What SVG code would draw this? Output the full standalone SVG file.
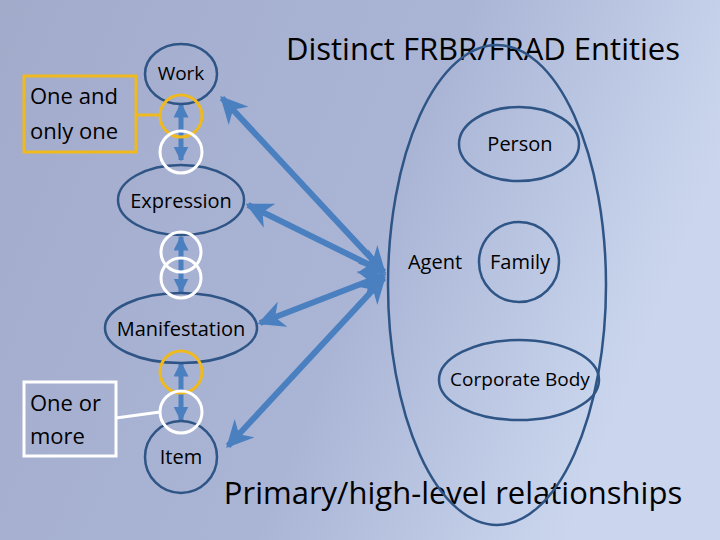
<svg xmlns="http://www.w3.org/2000/svg" width="720" height="540" viewBox="0 0 720 540">
<defs>
<linearGradient id="bg" x1="0" y1="0" x2="1" y2="0.3">
<stop offset="0" stop-color="#a3abcb"/><stop offset="0.6" stop-color="#aab5d6"/><stop offset="1" stop-color="#cbd6ee"/>
</linearGradient>
<marker id="ah" viewBox="0 0 10 10" refX="9" refY="5" markerWidth="4.5" markerHeight="4.5" orient="auto-start-reverse" markerUnits="strokeWidth">
<path d="M0,0 L10,5 L0,10 L3,5 Z" fill="#4a7fc0"/></marker>
<marker id="sh" viewBox="0 0 10 10" refX="9" refY="5" markerWidth="3" markerHeight="3" orient="auto-start-reverse" markerUnits="strokeWidth">
<path d="M0,0 L10,5 L0,10 Z" fill="#4a7fc0"/></marker>
</defs>
<style>
.e{fill:none;stroke:#2e5585;stroke-width:2.5}
.t{font-family:"Open Sans","Liberation Sans",sans-serif;fill:#000}
.a{stroke:#4a7fc0;stroke-width:6;fill:none;marker-start:url(#ah);marker-end:url(#ah)}
.v{stroke:#4a7fc0;stroke-width:5;fill:none;marker-start:url(#sh);marker-end:url(#sh)}
.y{fill:none;stroke:#f0b91e;stroke-width:3}
.w{fill:none;stroke:#fff;stroke-width:3}
</style>
<rect width="720" height="540" fill="url(#bg)"/>
<text class="t" x="483" y="60" font-size="31" text-anchor="middle">Distinct FRBR/FRAD Entities</text>
<text class="t" x="453" y="504" font-size="31" text-anchor="middle">Primary/high-level relationships</text>
<g id="connectors">
<line class="a" x1="384" y1="272" x2="222" y2="98"/>
<line class="a" x1="384" y1="272" x2="248" y2="205"/>
<line class="a" x1="384" y1="275" x2="260" y2="323"/>
<line class="a" x1="384" y1="278" x2="228" y2="446"/>
<line class="v" x1="181" y1="104" x2="181" y2="160"/>
<line class="v" x1="181" y1="237" x2="181" y2="292"/>
<line class="v" x1="181" y1="363" x2="181" y2="420"/>
<polyline points="136,115 160,115" fill="none" stroke="#f0b91e" stroke-width="3"/>
<polyline points="116,418 160,412" fill="none" stroke="#fff" stroke-width="3"/>
</g>
<g id="work"><ellipse class="e" cx="181" cy="74" rx="36" ry="30"/><text class="t" x="181" y="80" font-size="19" text-anchor="middle">Work</text></g>
<g id="expression"><ellipse class="e" cx="181" cy="200" rx="63" ry="35"/><text class="t" x="181" y="208" font-size="20" text-anchor="middle">Expression</text></g>
<g id="manifestation"><ellipse class="e" cx="181" cy="328" rx="76" ry="35"/><text class="t" x="181" y="336" font-size="20" text-anchor="middle">Manifestation</text></g>
<g id="item"><circle class="e" cx="181" cy="457" r="36"/><text class="t" x="181" y="464" font-size="20" text-anchor="middle">Item</text></g>
<g id="markers">
<circle class="y" cx="181" cy="116" r="21"/><circle class="w" cx="181" cy="152" r="21"/>
<circle class="w" cx="181" cy="252" r="20"/><circle class="w" cx="181" cy="278" r="20"/>
<circle class="y" cx="181" cy="372" r="21"/><circle class="w" cx="181" cy="412" r="21"/>
</g>
<g id="one-and-only-one"><rect x="24" y="76" width="112" height="76" fill="none" stroke="#f0b91e" stroke-width="3"/>
<text class="t" font-size="22"><tspan x="30" y="104">One and</tspan><tspan x="30" y="139">only one</tspan></text></g>
<g id="one-or-more"><rect x="24" y="382" width="92" height="74" fill="none" stroke="#fff" stroke-width="3"/>
<text class="t" font-size="22"><tspan x="30" y="411">One or</tspan><tspan x="30" y="444">more</tspan></text></g>
<g id="agent"><ellipse class="e" cx="497" cy="285" rx="109" ry="240"/><text class="t" x="435" y="269" font-size="20" text-anchor="middle">Agent</text></g>
<g id="person"><ellipse class="e" cx="519" cy="144" rx="60" ry="37"/><text class="t" x="520" y="151" font-size="20" text-anchor="middle">Person</text></g>
<g id="family"><circle class="e" cx="519" cy="262" r="40"/><text class="t" x="520" y="269" font-size="20" text-anchor="middle">Family</text></g>
<g id="corporate-body"><ellipse class="e" cx="519" cy="380" rx="80" ry="40"/><text class="t" x="520" y="386" font-size="19" text-anchor="middle">Corporate Body</text></g>
</svg>
